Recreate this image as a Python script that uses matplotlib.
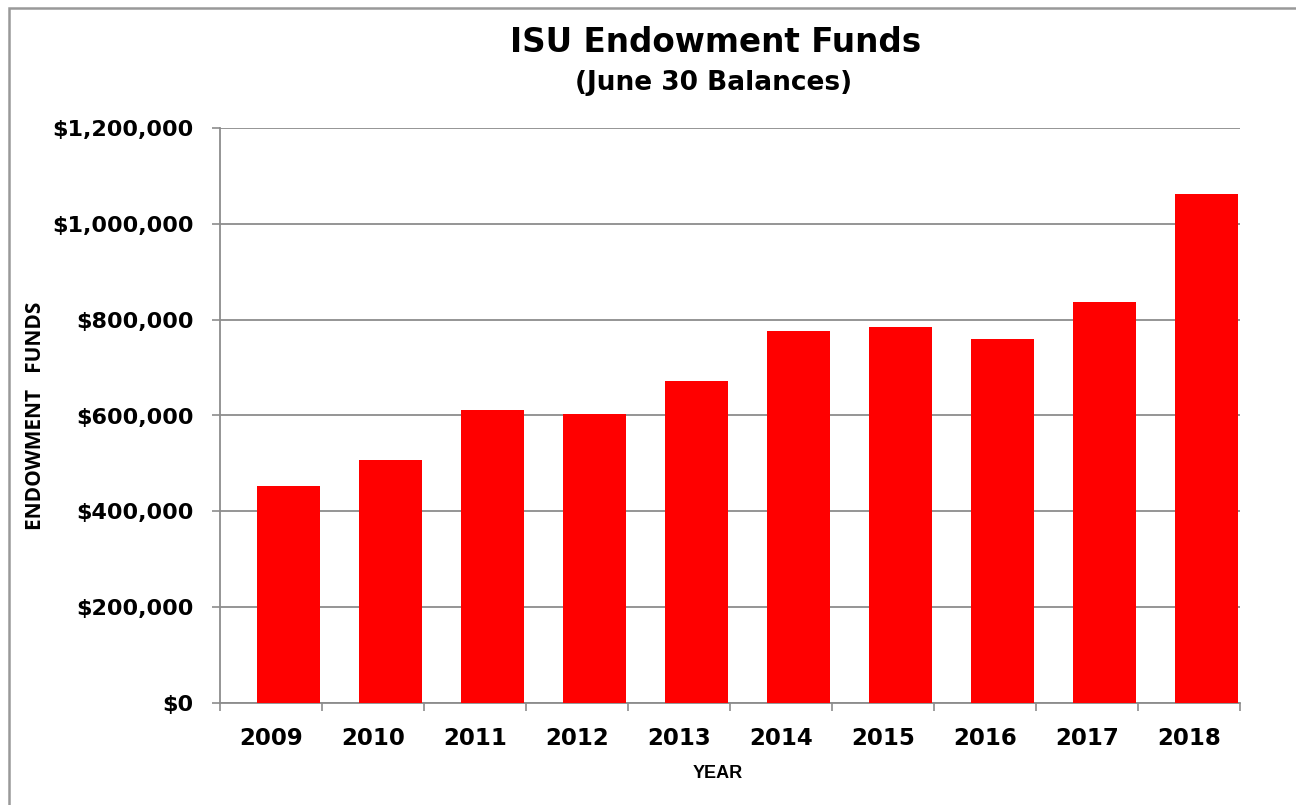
import matplotlib
matplotlib.use("Agg")
import matplotlib.pyplot as plt
import numpy as np
from matplotlib import ticker
from matplotlib.patches import Rectangle

years = ['2009', '2010', '2011', '2012', '2013', '2014', '2015', '2016', '2017', '2018']
funds = [452000, 508000, 612000, 604000, 672000, 776000, 785000, 760000, 837000, 1062000]

fig = plt.figure(figsize=(12.96, 8.05), dpi=100)
ax = fig.add_axes([220/1296, 1-703/805, 1020/1296, 575/805])

x = np.arange(len(years))
ax.bar(x + 0.17, funds, width=0.62, color='#ff0000', zorder=3)

ax.set_xlim(-0.5, len(years) - 0.5)
ax.set_ylim(0, 1200000)
ax.yaxis.set_major_locator(ticker.MultipleLocator(200000))
ax.yaxis.set_major_formatter(ticker.FuncFormatter(lambda v, p: '${:,.0f}'.format(v)))
ax.grid(axis='y', color='#8c8c8c', linewidth=1.3, zorder=1)

ax.set_xticks(x)
ax.set_xticklabels(years)
ax.set_xticks(np.arange(-0.5, len(years)), minor=True)
ax.tick_params(axis='x', which='major', length=0, pad=17)
ax.tick_params(axis='x', which='minor', length=6, width=1.2, color='#8c8c8c')
ax.tick_params(axis='y', length=6, width=1.2, color='#8c8c8c', pad=13)

for lab in ax.get_xticklabels():
    lab.set_fontfamily('DejaVu Sans')
    lab.set_fontweight('bold')
    lab.set_fontsize(16.5)
for lab in ax.get_yticklabels():
    lab.set_fontfamily('DejaVu Sans')
    lab.set_fontweight('bold')
    lab.set_fontsize(16)

for s in ['top', 'right']:
    ax.spines[s].set_visible(False)
for s in ['left', 'bottom']:
    ax.spines[s].set_color('#8c8c8c')
    ax.spines[s].set_linewidth(1.3)

ax.set_xlabel('YEAR', fontfamily='Liberation Sans', fontweight='bold', fontsize=13, va='center')
ax.xaxis.set_label_coords((718-220)/1020, -(773-703)/575)
ax.set_ylabel('ENDOWMENT   FUNDS', fontfamily='Open Sans', fontweight='bold', fontsize=15, va='center')
ax.yaxis.set_label_coords((36-220)/1020, 0.5)

fig.text(716/1296, 1-43/805, 'ISU Endowment Funds', ha='center', va='center',
         fontfamily='DejaVu Sans', fontweight='bold', fontsize=23.5)
fig.text(714/1296, 1-83/805, '(June 30 Balances)', ha='center', va='center',
         fontfamily='DejaVu Sans', fontweight='bold', fontsize=19)

fig.patches.append(Rectangle((9/1296, -0.1), 1.2, 1 - 8/805 + 0.1, transform=fig.transFigure,
                             fill=False, edgecolor='#999999', linewidth=1.8))

fig.savefig('out.png', dpi=100)
